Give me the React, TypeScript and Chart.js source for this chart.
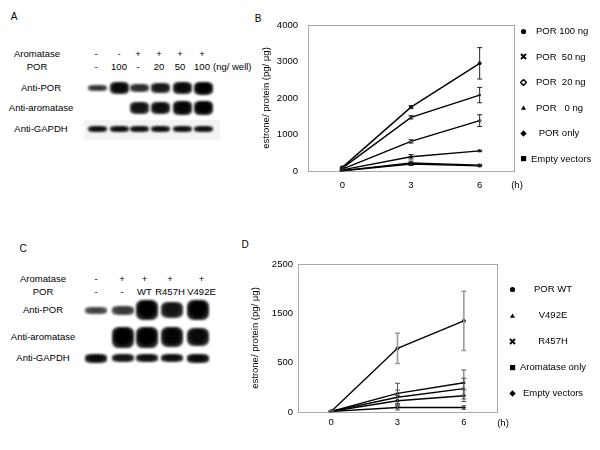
import React, { useEffect, useRef } from 'react';
import { Chart, registerables } from 'chart.js';

Chart.register(...registerables);

const FONT = '"Liberation Sans", Arial, Helvetica, sans-serif';

// ---------- Panel A (western blot) ----------
const A_AROMATASE = ['-', '-', '+', '+', '+', '+'];
const A_POR = ['-', '100', '-', '20', '50', '100'];
const A_UNIT = '(ng/ well)';
const A_ROW_LABELS = ['Anti-POR', 'Anti-aromatase', 'Anti-GAPDH'];
const A_BAND_POR = [0.45, 0.9, 0.55, 0.75, 0.9, 1.0];
const A_BAND_AROM = [0, 0, 0.8, 0.85, 0.95, 1.0];
const A_BAND_GAPDH = [0.85, 0.85, 0.85, 0.85, 0.85, 0.85];

// ---------- Panel C (western blot) ----------
const C_AROMATASE = ['-', '+', '+', '+', '+'];
const C_POR = ['-', '-', 'WT', 'R457H', 'V492E'];
const C_ROW_LABELS = ['Anti-POR', 'Anti-aromatase', 'Anti-GAPDH'];
const C_BAND_POR = [0.35, 0.45, 1.0, 0.8, 1.0];
const C_BAND_AROM = [0, 1.0, 1.0, 0.95, 0.9];
const C_BAND_GAPDH = [0.9, 0.8, 0.85, 0.85, 0.9];

// ---------- Panel B (time course) ----------
const TIME_LABELS = ['0', '3', '6'];
const TIME_UNIT = '(h)';
const Y_TITLE = 'estrone/ protein (pg/ \u03bcg)';
const B_NAMES = ['POR 100 ng', 'POR  50 ng', 'POR  20 ng', 'POR   0 ng', ' POR only', 'Empty vectors'];
const B_POR100 = [100, 1750, 2950];
const B_POR100_ERR = [20, 40, 430];
const B_POR50 = [80, 1470, 2080];
const B_POR50_ERR = [15, 45, 210];
const B_POR20 = [50, 810, 1380];
const B_POR20_ERR = [10, 45, 160];
const B_POR0 = [30, 390, 550];
const B_POR0_ERR = [10, 60, 20];
const B_PORONLY = [10, 220, 160];
const B_PORONLY_ERR = [5, 50, 20];
const B_EMPTY = [5, 190, 140];
const B_EMPTY_ERR = [5, 40, 15];
const B_Y_MAX = 4000;
const B_Y_STEP = 1000;

// ---------- Panel D (time course) ----------
const D_NAMES = ['POR WT', 'V492E', 'R457H', 'Aromatase only', 'Empty vectors'];
const D_WT = [10, 1075, 1540];
const D_WT_ERR = [5, 255, 500];
const D_V492E = [10, 315, 495];
const D_V492E_ERR = [5, 170, 215];
const D_R457H = [10, 250, 395];
const D_R457H_ERR = [5, 120, 175];
const D_AROM = [10, 190, 275];
const D_AROM_ERR = [5, 90, 100];
const D_EMPTY = [10, 75, 75];
const D_EMPTY_ERR = [5, 40, 30];
const D_Y_MAX = 2500;
const D_TICK_LABELS = ['0', '500', '1500', '2500'];

// marker styles (not data)
const B_MARKERS = ['circle', 'crossRot', 'rectRot', 'triangle', 'rectRot', 'rect'];
const B_MARKER_FILLED = [true, true, false, true, true, true];
const D_MARKERS = ['circle', 'triangle', 'crossRot', 'rect', 'rectRot'];

const errorBarPlugin = {
  id: 'errorBars',
  afterDatasetsDraw(chart: any) {
    const { ctx } = chart;
    const yScale = chart.scales.y;
    chart.data.datasets.forEach((ds: any, i: number) => {
      const errs = ds.errors;
      if (!errs) return;
      const meta = chart.getDatasetMeta(i);
      meta.data.forEach((pt: any, j: number) => {
        const v = ds.data[j];
        const e = errs[j];
        if (!e) return;
        const x = pt.x;
        const top = yScale.getPixelForValue(v + e);
        const bot = yScale.getPixelForValue(Math.max(0, v - e));
        ctx.save();
        ctx.strokeStyle = ds.errorColor || '#000';
        ctx.lineWidth = ds.errorWidth || 1;
        ctx.beginPath();
        ctx.moveTo(x, top);
        ctx.lineTo(x, bot);
        ctx.moveTo(x - 2.5, top);
        ctx.lineTo(x + 2.5, top);
        ctx.moveTo(x - 2.5, bot);
        ctx.lineTo(x + 2.5, bot);
        ctx.stroke();
        ctx.restore();
      });
    });
  },
};

const boxPlugin = {
  id: 'plotBox',
  beforeDatasetsDraw(chart: any) {
    const { ctx, chartArea: a } = chart;
    ctx.save();
    ctx.strokeStyle = '#a8a8a8';
    ctx.lineWidth = 1;
    ctx.strokeRect(Math.round(a.left) + 0.5, Math.round(a.top) + 0.5, Math.round(a.right - a.left), Math.round(a.bottom - a.top));
    ctx.restore();
  },
};

function buildConfig(p: {
  names: string[];
  values: number[][];
  errors: number[][];
  markers: string[];
  filled: boolean[];
  yMax: number;
  yStep?: number;
  tickLabels?: string[];
  yWidth: number;
  xHeight: number;
  yPad: number;
  xPad: number;
  titlePad: number;
  padding: any;
  errorColors: string[];
  errorWidths: number[];
}) {
  const tickFont = { family: FONT, size: 9.5 };
  const yScale: any = {
    type: 'linear',
    min: 0,
    max: p.yMax,
    grid: { display: false, drawTicks: false },
    border: { display: false },
    ticks: { padding: p.yPad, color: '#000', font: tickFont, stepSize: p.yStep, callback: (v: any) => String(v) },
    title: { display: true, text: Y_TITLE, color: '#000', font: tickFont, padding: { top: p.titlePad, bottom: 0 } },
    afterFit: (s: any) => { s.width = p.yWidth; },
  };
  if (p.tickLabels) {
    const labels = p.tickLabels;
    yScale.afterBuildTicks = (s: any) => {
      s.ticks = labels.map((_, i) => ({ value: (p.yMax * i) / (labels.length - 1) }));
    };
    yScale.ticks.callback = (_v: any, i: number) => labels[i];
  }
  return {
    type: 'line' as const,
    data: {
      labels: TIME_LABELS,
      datasets: p.values.map((vals, i) => ({
        label: p.names[i],
        data: vals,
        errors: p.errors[i],
        errorColor: p.errorColors[i],
        errorWidth: p.errorWidths[i],
        borderColor: '#000',
        borderWidth: 1.4,
        pointStyle: p.markers[i],
        pointRadius: 1.5,
        pointBorderWidth: 1,
        pointBorderColor: '#000',
        pointBackgroundColor: p.filled[i] ? '#000' : '#fff',
        tension: 0,
        fill: false,
      })),
    },
    options: {
      responsive: false,
      animation: false as const,
      devicePixelRatio: 1,
      layout: { padding: p.padding },
      plugins: { legend: { display: false }, tooltip: { enabled: false } },
      scales: {
        x: {
          type: 'category',
          offset: true,
          grid: { display: false, drawTicks: false },
          border: { display: false },
          ticks: { padding: p.xPad, color: '#000', font: tickFont, maxRotation: 0 },
          afterFit: (s: any) => { s.height = p.xHeight; },
        },
        y: yScale,
      },
    },
    plugins: [boxPlugin, errorBarPlugin],
  };
}

function LineChart({ config, left, top, width, height }: any) {
  const ref = useRef<HTMLCanvasElement>(null);
  useEffect(() => {
    const chart = new Chart(ref.current as HTMLCanvasElement, config);
    return () => chart.destroy();
  }, [config]);
  return (
    <div style={{ position: 'absolute', left, top, width, height }}>
      <canvas ref={ref} width={width} height={height} style={{ width, height, display: 'block' }} />
    </div>
  );
}

const txt = (s: string, x: number, y: number, extra: any = {}) => (
  <div
    key={`${s}-${x}-${y}`}
    style={{
      position: 'absolute',
      left: x,
      top: y,
      transform: 'translate(-50%, -50%)',
      whiteSpace: 'pre',
      fontFamily: FONT,
      fontSize: 9.5,
      color: '#000',
      lineHeight: 1,
      ...extra,
    }}
  >
    {s}
  </div>
);

function Marker({ shape, filled, x, y }: any) {
  const s = 7;
  let el: any = null;
  if (shape === 'circle') el = <circle cx={3.5} cy={3.5} r={2.6} fill="#000" />;
  else if (shape === 'crossRot') el = <path d="M1,1 L6,6 M6,1 L1,6" stroke="#000" strokeWidth={1.8} />;
  else if (shape === 'rectRot')
    el = <path d="M3.5,0.6 L6.4,3.5 L3.5,6.4 L0.6,3.5 Z" fill={filled ? '#000' : '#fff'} stroke="#000" strokeWidth={filled ? 0.5 : 1.4} />;
  else if (shape === 'triangle') el = <path d="M3.5,1.5 L6,5.8 L1,5.8 Z" fill="#000" />;
  else if (shape === 'rect') el = <rect x={1} y={1} width={5.2} height={5.2} fill="#000" />;
  return (
    <svg width={s} height={s} style={{ position: 'absolute', left: x - s / 2, top: y - s / 2 }}>
      {el}
    </svg>
  );
}

function Blot({ aromatase, por, unit, rowLabels, bands, laneXs, headerXs, headerY, rowY, rowH, bandW, labelX, headerLabelX }: any) {
  const items: any[] = [];
  items.push(txt('Aromatase', headerLabelX, headerY[0]));
  items.push(txt('POR', headerLabelX, headerY[1]));
  aromatase.forEach((s: string, i: number) => items.push(txt(s, headerXs[i], headerY[0])));
  por.forEach((s: string, i: number) => items.push(txt(s, headerXs[i], headerY[1])));
  if (unit) items.push(txt(unit, headerXs[por.length - 1] + 11, headerY[1], { transform: 'translate(0, -50%)' }));
  rowLabels.forEach((s: string, r: number) => items.push(txt(s, labelX, rowY[r])));
  bands.forEach((row: number[], r: number) => {
    row.forEach((v: number, i: number) => {
      if (!v) return;
      const h = rowH[r] * v;
      const a = 0.6 + 0.4 * v;
      items.push(
        <div
          key={`b-${r}-${i}`}
          style={{
            position: 'absolute',
            left: laneXs[i] - bandW / 2,
            top: rowY[r] - h / 2,
            width: bandW,
            height: h,
            background: `radial-gradient(ellipse at 50% 45%, rgba(0,0,0,${a}) 45%, rgba(30,30,30,${a * 0.75}) 100%)`,
            borderRadius: '30%',
            filter: 'blur(1.1px)',
          }}
        />
      );
    });
  });
  return <>{items}</>;
}

export default function App() {
  const bConfig = React.useMemo(
    () =>
      buildConfig({
        names: B_NAMES,
        values: [B_POR100, B_POR50, B_POR20, B_POR0, B_PORONLY, B_EMPTY],
        errors: [B_POR100_ERR, B_POR50_ERR, B_POR20_ERR, B_POR0_ERR, B_PORONLY_ERR, B_EMPTY_ERR],
        markers: B_MARKERS,
        filled: B_MARKER_FILLED,
        yMax: B_Y_MAX,
        yStep: B_Y_STEP,
        yWidth: 58,
        xHeight: 32,
        yPad: 10,
        xPad: 9,
        titlePad: 11,
        padding: { left: 0, right: 11, top: 17, bottom: 0 },
        errorColors: ['#222', '#222', '#222', '#222', '#222', '#222'],
        errorWidths: [1, 1, 1, 1, 1, 1],
      }),
    []
  );
  const dConfig = React.useMemo(
    () =>
      buildConfig({
        names: D_NAMES,
        values: [D_WT, D_V492E, D_R457H, D_AROM, D_EMPTY],
        errors: [D_WT_ERR, D_V492E_ERR, D_R457H_ERR, D_AROM_ERR, D_EMPTY_ERR],
        markers: D_MARKERS,
        filled: [true, true, true, true, true],
        yMax: D_Y_MAX,
        tickLabels: D_TICK_LABELS,
        yWidth: 58,
        xHeight: 21,
        yPad: 5,
        xPad: 5,
        titlePad: 10,
        padding: { left: 0, right: 8, top: 16, bottom: 0 },
        errorColors: ['#9a9a9a', '#555', '#555', '#555', '#555'],
        errorWidths: [1.6, 1, 1, 1, 1],
      }),
    []
  );

  const bLegendY0 = 31;
  const bLegendStep = 25.5;
  const dLegendY0 = 289;
  const dLegendStep = 26;

  return (
    <div style={{ position: 'absolute', left: 0, top: 0, width: 600, height: 450, background: '#fff', overflow: 'hidden' }}>
      {txt('A', 14, 17, { fontSize: 10 })}
      {txt('B', 258, 19, { fontSize: 10 })}
      {txt('C', 23, 249, { fontSize: 10 })}
      {txt('D', 245, 245, { fontSize: 10 })}

      <div style={{ position: 'absolute', left: 84, top: 120, width: 136, height: 20, background: '#f3f3f3' }} />
      <Blot
        aromatase={A_AROMATASE}
        por={A_POR}
        unit={A_UNIT}
        rowLabels={A_ROW_LABELS}
        bands={[A_BAND_POR, A_BAND_AROM, A_BAND_GAPDH]}
        laneXs={[97, 119, 139, 160, 182, 203]}
        headerXs={[96, 119, 138, 159, 180, 202]}
        headerY={[54, 67]}
        rowY={[88, 108, 129]}
        rowH={[13, 14, 8]}
        bandW={19}
        labelX={41}
        headerLabelX={37}
      />
      <Blot
        aromatase={C_AROMATASE}
        por={C_POR}
        unit={null}
        rowLabels={C_ROW_LABELS}
        bands={[C_BAND_POR, C_BAND_AROM, C_BAND_GAPDH]}
        laneXs={[96, 123, 147, 172, 198]}
        headerXs={[96, 122, 144.5, 170, 201.5]}
        headerY={[279, 292]}
        rowY={[310, 337, 358]}
        rowH={[20, 21, 10]}
        bandW={22}
        labelX={43}
        headerLabelX={43}
      />

      <LineChart config={bConfig} left={250} top={8} width={275} height={195} />
      {txt(TIME_UNIT, 517, 185)}
      {B_NAMES.map((n, i) => (
        <React.Fragment key={n}>
          <Marker shape={B_MARKERS[i]} filled={B_MARKER_FILLED[i]} x={523} y={bLegendY0 + i * bLegendStep} />
          {txt(n, i === 5 ? 531 : 536, bLegendY0 + i * bLegendStep, { transform: 'translate(0, -50%)' })}
        </React.Fragment>
      ))}

      <LineChart config={dConfig} left={240} top={248} width={265} height={185} />
      {txt(TIME_UNIT, 503, 423)}
      {D_NAMES.map((n, i) => (
        <React.Fragment key={n}>
          <Marker shape={D_MARKERS[i]} filled={true} x={512} y={dLegendY0 + i * dLegendStep} />
          {txt(n, 553, dLegendY0 + i * dLegendStep)}
        </React.Fragment>
      ))}
    </div>
  );
}
